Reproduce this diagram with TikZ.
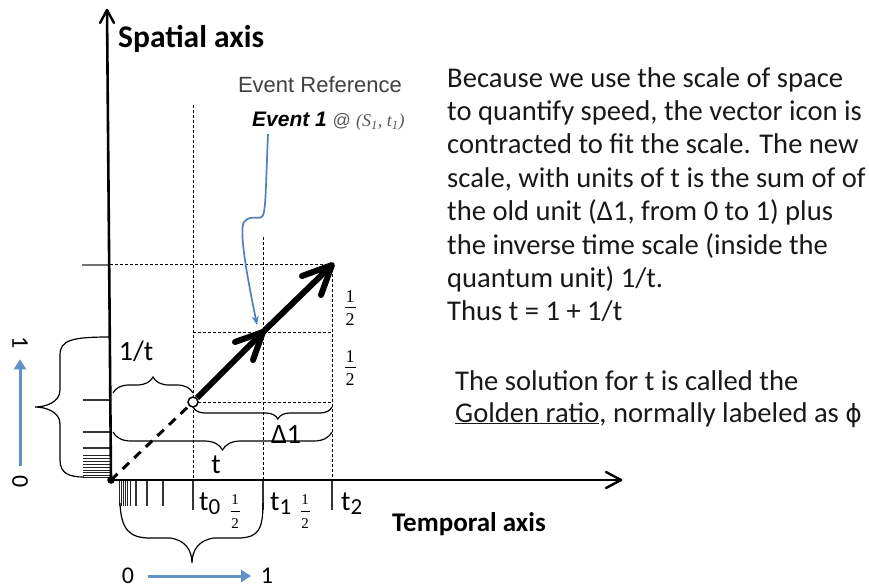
\documentclass[tikz,border=0pt]{standalone}
\usepackage{fontspec}
\setmainfont{Carlito}
\newfontfamily\arialf{Liberation Sans}
\newfontfamily\tnr{Liberation Serif}
\newfontfamily\dejavu{DejaVu Sans}
\usetikzlibrary{arrows.meta,decorations.pathreplacing}
\definecolor{pblue}{RGB}{79,129,189}
\definecolor{lblue}{RGB}{96,146,200}
\newcommand\myBody{\fontsize{28.6}{33}\selectfont}
\newcommand\myLbl{\fontsize{28}{28}\selectfont}
% fraction 1/2: name, x, bar y, font size, half width, baseline of 1 above bar, baseline of 2 below bar
\newcommand\halfat[7]{%
  \node[font=\tnr\fontsize{#4}{#4}\selectfont,inner sep=0pt,anchor=base] (#1n) at (#2,#3-#6) {1};
  \draw[line width=0.7pt] (#2-#5,#3) -- (#2+#5,#3);
  \node[font=\tnr\fontsize{#4}{#4}\selectfont,inner sep=0pt,anchor=base] (#1d) at (#2,#3+#7) {2};}
\begin{document}
\begin{tikzpicture}[x=1pt,y=-1pt,
  axis/.style={line width=2.6pt},
  axhead/.style={line width=2.4pt,line join=round,line cap=round},
  grid/.style={line width=0.9pt,dash pattern=on 3pt off 2pt},
  shaft/.style={line width=6pt},
  head/.style={line width=6pt,line join=round,line cap=round},
  tick/.style={line width=1.3pt,black!80},
  dtick/.style={line width=0.8pt,black!85},
  brc/.style={decorate,line width=1.2pt},
  lbl/.style={font=\myLbl,inner sep=0pt},
  ulbl/.style={font=\fontsize{24}{24}\selectfont,inner sep=0pt},
  body/.style={font=\myBody,anchor=base west,inner sep=0pt,text=black!90},
  barrow/.style={lblue,line width=3pt,-{Triangle[length=10pt,width=12pt]}}]
\useasboundingbox (0,0) rectangle (869,588);
\fill[white] (0,0) rectangle (869,588);

% points
\coordinate (O) at (111,480);
\coordinate (ytop) at (107,10);
\coordinate (xend) at (621,480);
\coordinate (e1) at (263,332);
\coordinate (e2) at (332,265);

% dashed grid
\draw[grid] (193,105) -- (193,480);
\draw[grid] (263,237) -- (263,480);
\draw[grid] (332,264) -- (332,480);
\draw[grid] (110,264) -- (332,264);
\draw[grid] (193,332) -- (332,332);
\draw[grid] (193,402) -- (332,402);

% ticks
\draw[tick,black!55] (82,265) -- (110,265);
\foreach \yy in {400,432,448}
  \draw[tick] (83,\yy) -- (110,\yy);
\foreach \yy in {455,458,461,464,467,470,472.5,475,477}
  \draw[dtick] (83,\yy) -- (110,\yy);
\foreach \xx in {136,147,163}
  \draw[tick] (\xx,481) -- (\xx,506);
\foreach \xx in {119.5,121.5,123.5,125.5,127.5,130}
  \draw[dtick] (\xx,481) -- (\xx,506);
\foreach \xx in {193,263,332}
  \draw[tick] (\xx,481) -- (\xx,510);

% axes
\draw[axis] (O) -- (ytop);
\draw[axis] (O) -- (xend);
\draw[axhead] (ytop) ++(-7,13) -- (ytop) -- ++(7,13);
\draw[axhead] (xend) ++(-15,-8) -- (xend) -- ++(-15,8);
\fill (O) circle (3.8pt);

% vector
\node[circle,draw,fill=white,line width=1.5pt,inner sep=0pt,minimum size=10pt] (c0) at (193,402) {};
\draw[line width=3pt,dash pattern=on 9pt off 7pt] (O) -- (c0);
\draw[shaft] (c0) -- (e1);
\draw[head] (e1) ++(-28,10) -- (e1) -- ++(-10,28);
\draw[shaft] (e1) -- (e2);
\draw[head] (e2) ++(-30,11) -- (e2) -- ++(-11,30);

% braces
\draw[brc,decoration={brace,amplitude=16pt}] (113,393) -- (193,393);
\draw[brc,decoration={brace,mirror,amplitude=12pt,aspect=0.61}] (193,407) -- (332,407);
\draw[brc,decoration={brace,mirror,amplitude=18pt}] (113,432) -- (332,432);
\draw[line width=1.2pt] (110,337) .. controls (72,337) and (60,340) .. (60,355) -- (60,390)
  .. controls (60,402) and (46,407) .. (35,407) .. controls (46,407) and (60,412) .. (60,424)
  -- (60,460) .. controls (60,474) and (70,477) .. (84,477);
\draw[line width=1.2pt] (120,503) .. controls (121,530) and (130,538) .. (150,538) -- (170,538)
  .. controls (185,540) and (192,550) .. (192,563) .. controls (192,550) and (199,540) .. (214,538)
  -- (240,538) .. controls (258,537) and (263,530) .. (263,503);

% labels on diagram
\node[lbl,anchor=base] (l1t) at (136,360) {1/t};
\node[lbl,anchor=base] (ld1) at (286,443) {Δ1};
\node[lbl,anchor=base] (lt) at (216,473) {t};
\node[lbl,anchor=base west] (lt0) at (199,510) {t\raisebox{-4pt}{\fontsize{23}{23}\selectfont 0}};
\node[lbl,anchor=base west] (lt1) at (270,510) {t\raisebox{-4pt}{\fontsize{23}{23}\selectfont 1}};
\node[lbl,anchor=base west] (lt2) at (341,510) {t\raisebox{-4pt}{\fontsize{23}{23}\selectfont 2}};
\halfat{ha}{235}{511}{15}{4.5}{7}{17}
\halfat{hb}{305}{511}{15}{4.5}{7}{17}
\halfat{hc}{350}{307}{18}{5.5}{5}{18}
\halfat{hd}{350}{367}{18}{5.5}{5}{18}

% unit arrows
\node[ulbl,anchor=base] (b0) at (128,583) {0};
\node[ulbl,anchor=base] (b1) at (267,583) {1};
\draw[barrow] (148,576) -- (251,576);
\node[ulbl,rotate=-90] (v1) at (20,343) {1};
\node[ulbl,rotate=-90] (v0) at (20,482) {0};
\draw[barrow,shorten <=10pt,shorten >=10pt] (v0) -- (v1);

% axis titles
\node[anchor=base west,inner sep=0pt,font=\fontsize{31.5}{31.5}\selectfont\bfseries] (sa) at (118,48) {Spatial axis};
\node[anchor=base west,inner sep=0pt,font=\fontsize{27}{27}\selectfont\bfseries] (ta) at (392,531) {Temporal axis};

% event reference
\node[anchor=base,inner sep=0pt,font=\arialf\fontsize{22}{22}\selectfont,text=black!75] (er) at (320,93) {Event Reference};
\node[anchor=base west,inner sep=0pt] (ev1) at (252,127) {\arialf\fontsize{21}{21}\selectfont\bfseries\itshape Event 1 \mdseries\upshape\fontsize{18}{18}\selectfont\color{black!65}@ {\tnr\itshape (S\textsubscript{1}, t\textsubscript{1})}};
\coordinate (evs) at (268,134);
\coordinate (evt) at (257,325);
\draw[pblue,line width=1.7pt,-{Stealth[length=9pt,width=7pt]}] (evs) .. controls (266,180) and (266,200) .. (264,212)
  .. controls (262,224) and (252,212) .. (244,222) .. controls (238,232) and (250,290) .. (evt);

% paragraph
\node[body] (p1) at (447,88) {Because we use the scale of space};
\node[body] (p2) at (447,121) {to quantify speed, the vector icon is};
\node[body] (p3) at (447,154) {contracted to fit the scale. The new};
\node[body] (p4) at (447,187) {scale, with units of t is the sum of of};
\node[body] (p5) at (447,220) {the old unit (Δ1, from 0 to 1) plus};
\node[body] (p6) at (447,254) {the inverse time scale (inside the};
\node[body] (p7) at (447,287) {quantum unit) 1/t.};
\node[body] (p8) at (447,320) {Thus t = 1 + 1/t};
\node[body] (q1) at (455,390) {The solution for t is called the};
\node[body] (q2) at (455,422) {\underline{Golden ratio}, normally labeled as {\dejavu\fontsize{25}{25}\selectfont ϕ}};
\end{tikzpicture}
\end{document}
